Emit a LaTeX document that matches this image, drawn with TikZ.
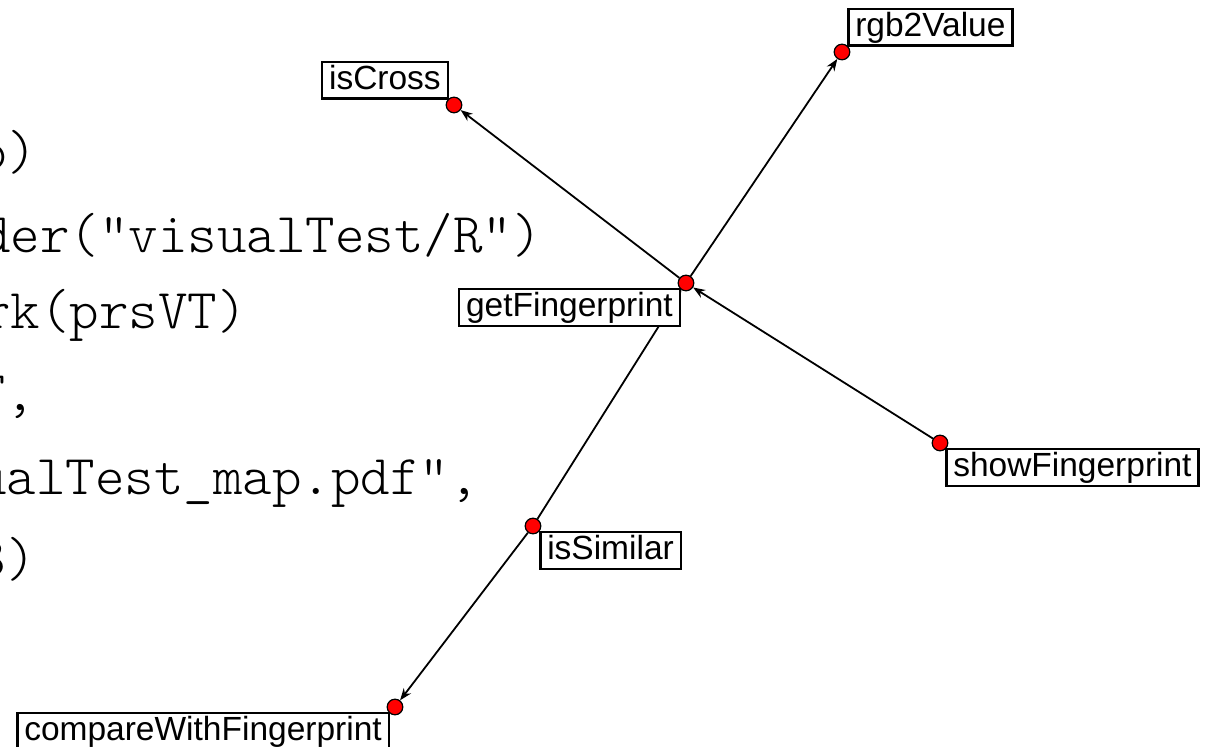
\documentclass[tikz,border=0pt]{standalone}
\usepackage{fontspec}
\newfontfamily\codefont{Latin Modern Mono Light}
\newfontfamily\labfont{Liberation Sans}
\usetikzlibrary{arrows.meta}
\pgfdeclarelayer{bglayer}
\pgfdeclarelayer{edgelayer}
\pgfsetlayers{bglayer,edgelayer,main}
\begin{document}
\begin{tikzpicture}[x=0.5pt,y=-0.5pt,
  codeline/.style={anchor=base west, inner sep=0pt, font=\codefont\fontsize{28.1}{28.1}\selectfont, text=black},
  lab/.style={draw=black, line width=1.25pt, fill=white, font=\labfont\fontsize{16.75}{20}\selectfont, inner xsep=3.5pt, inner ysep=1pt, text height=12.5pt, text depth=3.8pt},
  dot/.style={circle, draw=black, line width=0.6pt, fill=red, minimum size=7.8pt, inner sep=0pt},
  edge/.style={line width=0.9pt, -{Stealth[length=6pt,width=4.5pt]}}]
\useasboundingbox (0,0) rectangle (1211,747);
\begin{pgfonlayer}{bglayer}
\fill[white] (0,0) rectangle (1211,747);
\end{pgfonlayer}
\clip (0,0) rectangle (1211,747);

% code text (cropped at the left edge)
\node[codeline] (c1) at (-22.5,170) {b)};
\node[codeline] (c2) at (-19.2,253) {der("visualTest/R")};
\node[codeline] (c3) at (-19.2,329) {rk(prsVT)};
\node[codeline] (c4) at (-24.2,411) {F,};
\node[codeline] (c5) at (-23.2,495) {ualTest\_map.pdf",};
\node[codeline] (c6) at (-23.5,577) {3)};

% dot centres
\coordinate (pgF) at (686,283);
\coordinate (pCross) at (454,105);
\coordinate (pRgb) at (842,52);
\coordinate (pShow) at (940,443);
\coordinate (pSim) at (533,526);
\coordinate (pCmp) at (395,707);

% labels
\node[lab, anchor=south east] (lCross) at ([shift={(-5,-5)}]pCross) {isCross};
\node[lab, anchor=south west] (lRgb) at ([shift={(5,-5)}]pRgb) {rgb2Value};
\node[lab, anchor=north east] (lgF) at ([shift={(-5,5)}]pgF) {getFingerprint};
\node[lab, anchor=north west] (lShow) at ([shift={(5,5)}]pShow) {showFingerprint};
\node[lab, anchor=north west] (lSim) at ([shift={(6,5)}]pSim) {isSimilar};
\node[lab, anchor=north east] (lCmp) at ([shift={(-5,5)}]pCmp) {compareWithFingerprint};

% dots
\node[dot] (gF) at (pgF) {};
\node[dot] (cross) at (pCross) {};
\node[dot] (rgb) at (pRgb) {};
\node[dot] (show) at (pShow) {};
\node[dot] (sim) at (pSim) {};
\node[dot] (cmp) at (pCmp) {};

% connectors
\begin{pgfonlayer}{edgelayer}
\draw[edge] (gF) -- (cross);
\draw[edge] (gF) -- (rgb);
\draw[edge] (show) -- (gF);
\draw[edge] (sim) -- (gF);
\draw[edge] (sim) -- (cmp);
\end{pgfonlayer}
\end{tikzpicture}
\end{document}
